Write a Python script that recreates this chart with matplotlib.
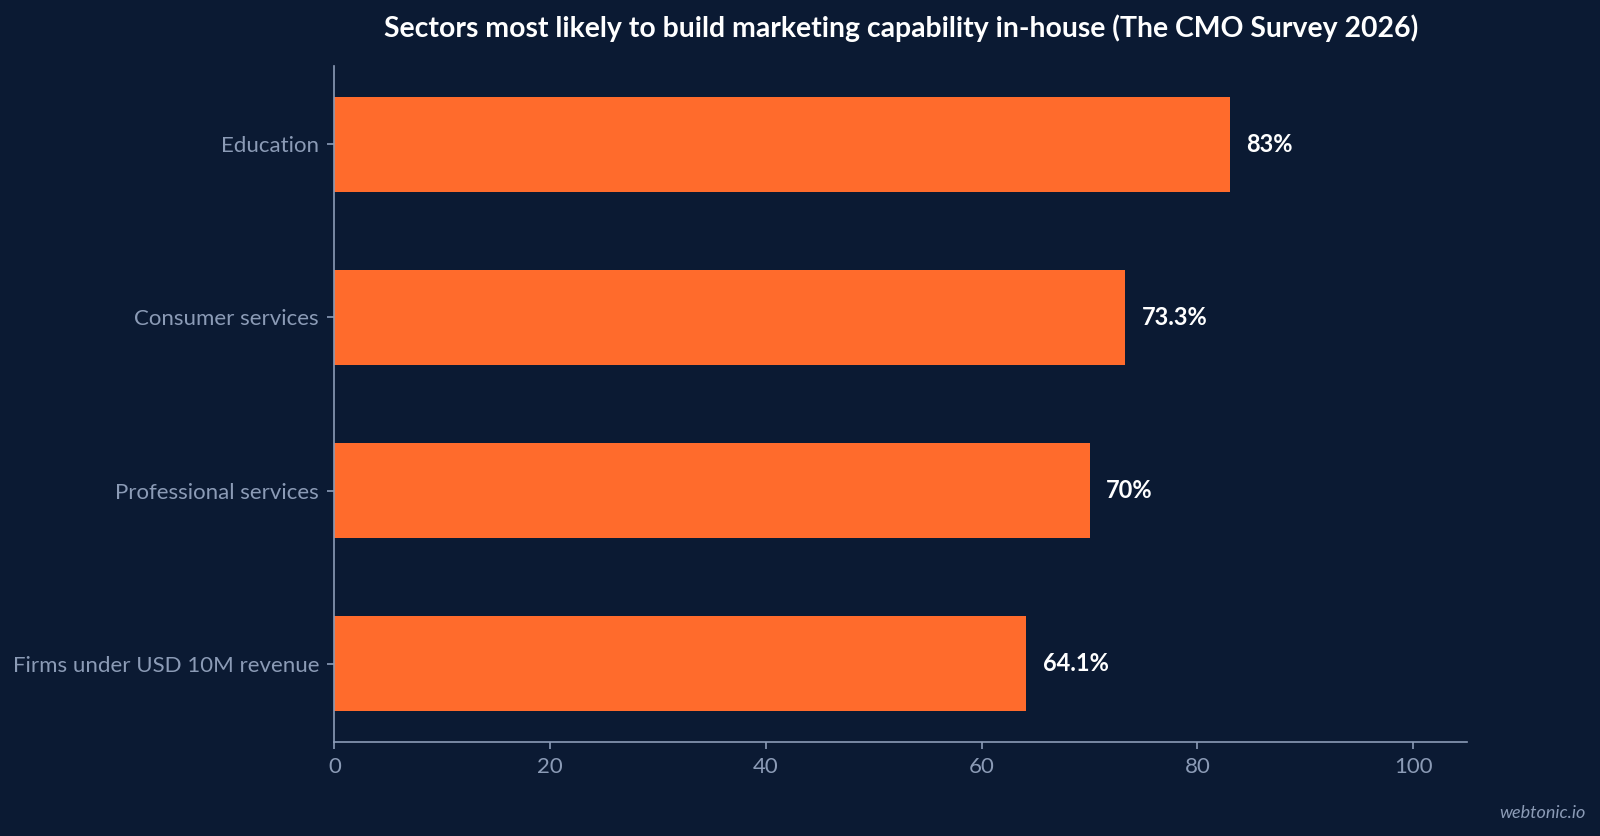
import matplotlib
matplotlib.use("Agg")
import matplotlib.pyplot as plt

# chart data
sectors = ["Firms under USD 10M revenue", "Professional services", "Consumer services", "Education"]
shares = [64.1, 70, 73.3, 83]
value_labels = ["64.1%", "70%", "73.3%", "83%"]
x_ticks = [0, 20, 40, 60, 80, 100]

BG = "#0b1a33"
BAR = "#ff6b2c"
MUTED = "#8b9bb6"

plt.rcParams['font.family'] = ['Lato', 'DejaVu Sans']

fig = plt.figure(figsize=(16, 8.36), dpi=100, facecolor=BG)
ax = fig.add_axes([0.209, 0.1127, 0.708, 0.808])
ax.set_facecolor(BG)

ypos = list(range(len(sectors)))
ax.barh(ypos, shares, height=0.55, color=BAR, zorder=2)

for y, v, lab in zip(ypos, shares, value_labels):
    ax.annotate(lab, (v, y), xytext=(12, 0), textcoords="offset points",
                va="center", ha="left", color="white", fontsize=17, fontweight="bold")

ax.set_xlim(0, 105)
ax.set_ylim(-0.45, len(sectors) - 0.55)
ax.set_yticks(ypos)
ax.set_yticklabels(sectors)
ax.set_xticks(x_ticks)

for side in ["top", "right"]:
    ax.spines[side].set_visible(False)
for side in ["left", "bottom"]:
    ax.spines[side].set_color(MUTED)
    ax.spines[side].set_linewidth(1.2)

ax.tick_params(axis="both", colors=MUTED, labelsize=16, length=5, width=1.2)
ax.tick_params(axis="y", pad=6)
ax.tick_params(axis="x", pad=6)

fig.suptitle("Sectors most likely to build marketing capability in-house (The CMO Survey 2026)",
             x=0.563, y=0.966, color="white", fontsize=20.4, fontweight="bold", va="center")

fig.text(0.991, 0.027, "webtonic.io", ha="right", va="center", color=MUTED,
         fontsize=13, style="italic")

fig.savefig("out.png", facecolor=BG)
